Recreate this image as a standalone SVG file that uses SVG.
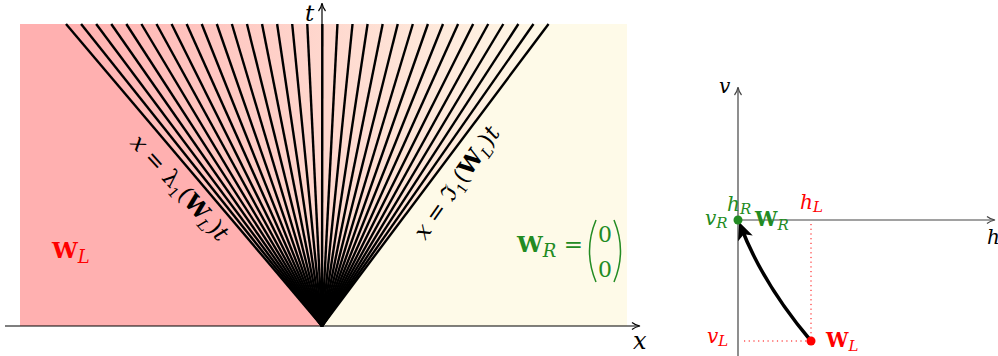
<svg xmlns="http://www.w3.org/2000/svg" width="998" height="356" viewBox="0 0 998 356">
<defs>
<linearGradient id="fanGrad" gradientUnits="userSpaceOnUse" x1="66" y1="0" x2="550" y2="0">
<stop offset="0" stop-color="#ffb0b0"/>
<stop offset="1" stop-color="#fefae8"/>
</linearGradient>
<marker id="thinArrow" viewBox="0 0 10 10" refX="8" refY="5" markerWidth="10" markerHeight="10" markerUnits="userSpaceOnUse" orient="auto">
<path d="M1,1.5 Q4,4 9,5 Q4,6 1,8.5" fill="none" stroke="#000" stroke-width="1.2"/>
</marker>
<marker id="thinArrowGray" viewBox="0 0 10 10" refX="8" refY="5" markerWidth="10" markerHeight="10" markerUnits="userSpaceOnUse" orient="auto">
<path d="M1,1.5 Q4,4 9,5 Q4,6 1,8.5" fill="none" stroke="#444" stroke-width="1.2"/>
</marker>
<marker id="thickArrow" viewBox="0 0 10 10" refX="7" refY="5" markerWidth="5" markerHeight="5" orient="auto">
<path d="M0,0.5 L10,5 L0,9.5 L2.5,5 Z" fill="#000"/>
</marker>
</defs>
<style>
.math{font-family:"DejaVu Serif","Liberation Serif",serif;}
.it{font-style:italic;}
.bf{font-weight:bold;}
.fan line{stroke:#000;stroke-width:2.4;}
.red{fill:#ff0000;}
.green{fill:#228b22;}
</style>

<g id="regions">
<polygon points="20,24 66,24 322,326 20,326" fill="#ffb0b0"/>
<polygon points="550,24 627,24 627,326 322,326" fill="#fefae8"/>
<polygon points="66,24 550,24 322,326" fill="url(#fanGrad)"/>
</g>

<g id="fan" class="fan">
<line x1="322" y1="326" x2="66" y2="24"/>
<line x1="322" y1="326" x2="81.08" y2="24"/>
<line x1="322" y1="326" x2="96.16" y2="24"/>
<line x1="322" y1="326" x2="111.24" y2="24"/>
<line x1="322" y1="326" x2="126.32" y2="24"/>
<line x1="322" y1="326" x2="141.40" y2="24"/>
<line x1="322" y1="326" x2="156.48" y2="24"/>
<line x1="322" y1="326" x2="171.56" y2="24"/>
<line x1="322" y1="326" x2="186.64" y2="24"/>
<line x1="322" y1="326" x2="201.72" y2="24"/>
<line x1="322" y1="326" x2="216.80" y2="24"/>
<line x1="322" y1="326" x2="231.88" y2="24"/>
<line x1="322" y1="326" x2="246.96" y2="24"/>
<line x1="322" y1="326" x2="262.04" y2="24"/>
<line x1="322" y1="326" x2="277.12" y2="24"/>
<line x1="322" y1="326" x2="292.20" y2="24"/>
<line x1="322" y1="326" x2="307.28" y2="24"/>
<line x1="322" y1="326" x2="322.36" y2="24"/>
<line x1="322" y1="326" x2="337.44" y2="24"/>
<line x1="322" y1="326" x2="352.52" y2="24"/>
<line x1="322" y1="326" x2="367.60" y2="24"/>
<line x1="322" y1="326" x2="382.68" y2="24"/>
<line x1="322" y1="326" x2="397.76" y2="24"/>
<line x1="322" y1="326" x2="412.84" y2="24"/>
<line x1="322" y1="326" x2="427.92" y2="24"/>
<line x1="322" y1="326" x2="443.00" y2="24"/>
<line x1="322" y1="326" x2="458.08" y2="24"/>
<line x1="322" y1="326" x2="473.16" y2="24"/>
<line x1="322" y1="326" x2="488.24" y2="24"/>
<line x1="322" y1="326" x2="503.32" y2="24"/>
<line x1="322" y1="326" x2="518.40" y2="24"/>
<line x1="322" y1="326" x2="533.48" y2="24"/>
<line x1="322" y1="326" x2="548.56" y2="24"/>
</g>

<g id="axes-left" fill="none">
<line x1="5" y1="326" x2="639" y2="326" stroke="#000" stroke-width="1.2" marker-end="url(#thinArrow)"/>
<line x1="322" y1="326" x2="322" y2="4" stroke="#000" stroke-width="1.2" marker-end="url(#thinArrow)"/>
</g>

<g id="labels-left" class="math">
<text x="305" y="21" font-size="23" class="it">t</text>
<text x="633" y="349" font-size="24" class="it">x</text>
<text x="52" y="258" font-size="23" class="red"><tspan class="bf">W</tspan><tspan class="it" font-size="18" dy="5">L</tspan></text>
<text transform="translate(174,193) rotate(48)" font-size="23" text-anchor="middle"><tspan class="it">x</tspan> = λ<tspan font-size="14" dy="5">1</tspan><tspan dy="-5">(</tspan><tspan class="bf">W</tspan><tspan class="it" font-size="15" dy="5">L</tspan><tspan dy="-5">)</tspan><tspan class="it">t</tspan></text>
<text transform="translate(463,187) rotate(-55)" font-size="23" text-anchor="middle"><tspan class="it">x</tspan> = ℑ<tspan font-size="14" dy="5">1</tspan><tspan dy="-5">(</tspan><tspan class="bf">W</tspan><tspan class="it" font-size="15" dy="5">L</tspan><tspan dy="-5">)</tspan><tspan class="it">t</tspan></text>
<g class="green">
<text x="517" y="252" font-size="23"><tspan class="bf">W</tspan><tspan class="it" font-size="18" dy="5">R</tspan><tspan dy="-5" font-size="23"> =</tspan></text>
<text x="605" y="242" font-size="22" text-anchor="middle">0</text>
<text x="605" y="277" font-size="22" text-anchor="middle">0</text>
</g>
<path d="M596,220 Q583,251 596,282" fill="none" stroke="#228b22" stroke-width="1.5"/>
<path d="M614,220 Q627,251 614,282" fill="none" stroke="#228b22" stroke-width="1.5"/>
</g>

<g id="axes-right" fill="none">
<line x1="738" y1="356" x2="738" y2="88" stroke="#444" stroke-width="1.2" marker-end="url(#thinArrowGray)"/>
<line x1="738" y1="220" x2="994" y2="220" stroke="#444" stroke-width="1.2" marker-end="url(#thinArrowGray)"/>
</g>

<g id="connectors">
<line x1="811" y1="224" x2="811" y2="341" stroke="#ff0000" stroke-width="1" stroke-dasharray="1.2,3.5"/>
<line x1="744" y1="341" x2="811" y2="341" stroke="#ff0000" stroke-width="1" stroke-dasharray="1.2,3.5"/>
<path d="M811,341 Q763,284 741,227" fill="none" stroke="#000" stroke-width="3.5" marker-end="url(#thickArrow)"/>
</g>

<g id="node-WR">
<circle cx="738" cy="220" r="4.5" fill="#228b22"/>
<text class="math green" x="755" y="226" font-size="20"><tspan class="bf">W</tspan><tspan class="it" font-size="15" dy="4">R</tspan></text>
<text class="math green it" x="727" y="211" font-size="20">h<tspan font-size="15" dy="3">R</tspan></text>
<text class="math green it" x="705" y="225" font-size="20">v<tspan font-size="15" dy="3">R</tspan></text>
</g>

<g id="node-WL">
<circle cx="811" cy="341" r="4.5" fill="#ff0000"/>
<text class="math red" x="826" y="347" font-size="20"><tspan class="bf">W</tspan><tspan class="it" font-size="15" dy="4">L</tspan></text>
<text class="math red it" x="800" y="209" font-size="20">h<tspan font-size="15" dy="3">L</tspan></text>
<text class="math red it" x="707" y="343" font-size="20">v<tspan font-size="15" dy="3">L</tspan></text>
</g>

<g id="axis-labels-right" class="math it">
<text x="719" y="93" font-size="20">v</text>
<text x="987" y="244" font-size="20">h</text>
</g>
</svg>
